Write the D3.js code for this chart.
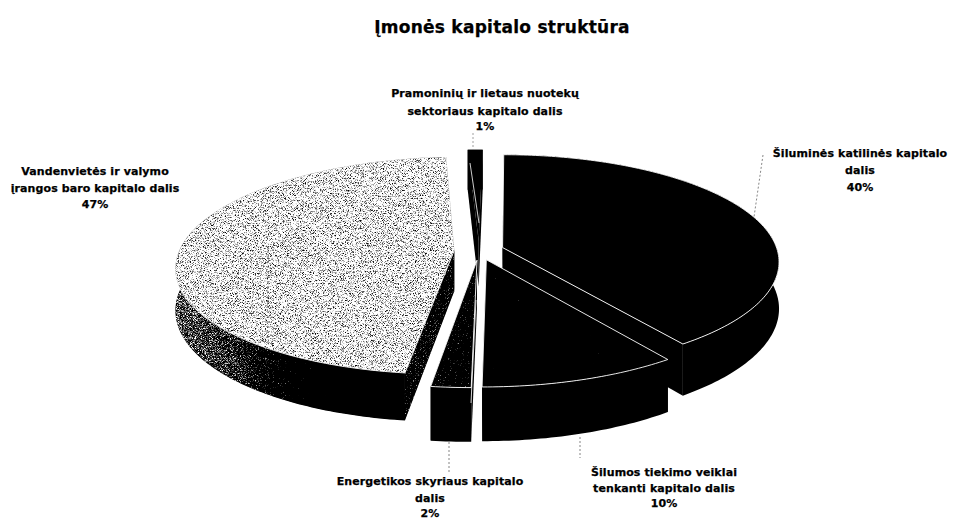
<!DOCTYPE html>
<html><head><meta charset="utf-8">
<style>
html,body{margin:0;padding:0;background:#fff}
svg{display:block}
text{font-family:"DejaVu Sans",sans-serif;font-weight:700;fill:#000;stroke:#000;stroke-width:.25;text-anchor:middle}
</style>
<script src="https://cdn.jsdelivr.net/npm/d3@7/dist/d3.min.js"></script>
</head><body>
<script>
const title = "Įmonės kapitalo struktūra";
const categories = [
  "Šiluminės katilinės kapitalo dalis",
  "Šilumos tiekimo veiklai tenkanti kapitalo dalis",
  "Energetikos skyriaus kapitalo dalis",
  "Vandenvietės ir valymo įrangos baro kapitalo dalis",
  "Pramoninių ir lietaus nuotekų sektoriaus kapitalo dalis"
];
const values = [40, 10, 2, 47, 1];
const labelLines = [
  ["Šiluminės katilinės kapitalo", "dalis"],
  ["Šilumos tiekimo veiklai", "tenkanti kapitalo dalis"],
  ["Energetikos skyriaus kapitalo", "dalis"],
  ["Vandenvietės ir valymo", "įrangos baro kapitalo dalis"],
  ["Pramoninių ir lietaus nuotekų", "sektoriaus kapitalo dalis"]
];

const W = 953, H = 519;
const svg = d3.select("body").append("svg").attr("width", W).attr("height", H).attr("viewBox", `0 0 ${W} ${H}`);
svg.append("rect").attr("width", W).attr("height", H).attr("fill", "#fff");

// 3D projection of the pie disc
const X0 = 512, Y0 = 250.5, A = 275, B = 106.6, K = 0.14, E = 0.09, UC = -0.12;
const thick = [46, 46, 46, 41, 46];
function proj(U, V, h) {
  const s = 1 / (1 - K * V);
  return [X0 + A * U * s, Y0 + B * V * s + h * s];
}
const line = d3.line();
const pie = d3.pie().sort(null).value(d => d)(values);

// styles per slice
const topFill  = ["#060606", "#161616", "#3a3a3a", "#9e9e9e", "#000"];
const cutFill  = ["#000", "#000", "#000", "#484848", "#000"];

const defs = svg.append("defs");
const f = defs.append("filter").attr("id", "dither")
  .attr("filterUnits", "userSpaceOnUse").attr("x", 0).attr("y", 0).attr("width", W).attr("height", H)
  .attr("color-interpolation-filters", "sRGB");
f.append("feTurbulence").attr("type", "fractalNoise").attr("baseFrequency", 1.4).attr("numOctaves", 1).attr("seed", 7).attr("result", "n");
f.append("feColorMatrix").attr("in", "n").attr("type", "matrix")
  .attr("values", "1 0 0 0 0  1 0 0 0 0  1 0 0 0 0  0 0 0 0 1").attr("result", "g");
f.append("feComposite").attr("in", "SourceGraphic").attr("in2", "g").attr("operator", "arithmetic")
  .attr("k1", 0).attr("k2", 1).attr("k3", 1).attr("k4", -0.5).attr("result", "sum");
const ct = f.append("feComponentTransfer").attr("in", "sum").attr("result", "bw");
["feFuncR", "feFuncG", "feFuncB"].forEach(c => ct.append(c).attr("type", "linear").attr("slope", 4).attr("intercept", -1.5));
f.append("feGaussianBlur").attr("in", "bw").attr("stdDeviation", 0.3).attr("result", "soft");
f.append("feComposite").attr("in", "soft").attr("in2", "SourceAlpha").attr("operator", "in");

const wallGrad = defs.append("linearGradient").attr("id", "wall47")
  .attr("gradientUnits", "userSpaceOnUse").attr("x1", 178).attr("y1", 0).attr("x2", 400).attr("y2", 0);
[[0, "#747474"], [0.25, "#626262"], [0.45, "#3a3a3a"], [0.65, "#141414"], [1, "#000"]]
  .forEach(d => wallGrad.append("stop").attr("offset", d[0]).attr("stop-color", d[1]));

const order = [4, 3, 0, 1, 2];
const g = svg.append("g");
order.forEach(i => {
  const d = pie[i];
  const mid = (d.startAngle + d.endAngle) / 2;
  const u0 = UC + E * Math.sin(mid), v0 = -E * Math.cos(mid);
  const pt = (t, h) => proj(u0 + Math.sin(t), v0 - Math.cos(t), h * thick[i]);
  const apex = h => proj(u0, v0, h * thick[i]);
  const n = Math.max(6, Math.ceil((d.endAngle - d.startAngle) * 60));
  const ts = d3.range(n + 1).map(j => d.startAngle + (d.endAngle - d.startAngle) * j / n);
  const topArc = ts.map(t => pt(t, 0));
  const botArc = ts.map(t => pt(t, 1));
  const wallFill = i === 3 ? "url(#wall47)" : "#000";
  const isDither = c => c !== "#000";
  const sl = g.append("g").attr("class", "slice");
  // cut faces
  [d.startAngle, d.endAngle].forEach(t => {
    sl.append("path")
      .attr("d", line([apex(0), pt(t, 0), pt(t, 1), apex(1)]) + "Z")
      .attr("fill", cutFill[i])
      .attr("filter", isDither(cutFill[i]) ? "url(#dither)" : null);
  });
  // outer wall
  sl.append("path")
    .attr("d", line(topArc.concat(botArc.slice().reverse())) + "Z")
    .attr("fill", wallFill)
    .attr("filter", i === 3 ? "url(#dither)" : null);
  // top surface
  const topPath = line([apex(0)].concat(topArc)) + "Z";
  sl.append("path").attr("d", topPath).attr("fill", topFill[i])
    .attr("filter", isDither(topFill[i]) ? "url(#dither)" : null);
  sl.append("path").attr("d", topPath).attr("fill", "none")
    .attr("stroke", "#fff").attr("stroke-width", i === 4 ? 0 : 0.9)
    .attr("stroke-linejoin", "round");
});

// leader lines
const leaders = [
  [[763, 155], [754, 217], "#666", "2 2"],
  [[580, 437], [580, 458], "#666", "2 2"],
  [[449, 442], [449, 474], "#666", "2 2"],
  [[473, 133], [473, 150], "#888", "2 2"],
  [[268, 246], [268, 343], "#333", "2 3"],
  [[476, 300], [471, 403], "#fff", null],
  [[470, 163], [479, 223], "#fff", null]
];
svg.append("g").selectAll("line").data(leaders).join("line")
  .attr("x1", d => d[0][0]).attr("y1", d => d[0][1])
  .attr("x2", d => d[1][0]).attr("y2", d => d[1][1])
  .attr("stroke", d => d[2]).attr("stroke-width", 0.8)
  .attr("stroke-dasharray", d => d[3]);

// text
svg.append("text").attr("x", 502).attr("y", 33).attr("font-size", 17).attr("letter-spacing", 0.25).text(title);
const labelPos = [
  {x: 860, y: [157, 174, 191]},
  {x: 664, y: [476, 492, 507]},
  {x: 430, y: [485, 502, 517]},
  {x: 95,  y: [175, 192, 208]},
  {x: 485, y: [97, 115, 130]}
];
const lab = svg.append("g").selectAll("text").data(pie).join("text")
  .attr("font-size", 11).attr("letter-spacing", 0.1);
lab.each(function (d, i) {
  const t = d3.select(this);
  labelLines[i].concat([d.value + "%"]).forEach((s, j) => {
    t.append("tspan").attr("x", labelPos[i].x).attr("y", labelPos[i].y[j]).text(s);
  });
});
</script>
</body></html>
